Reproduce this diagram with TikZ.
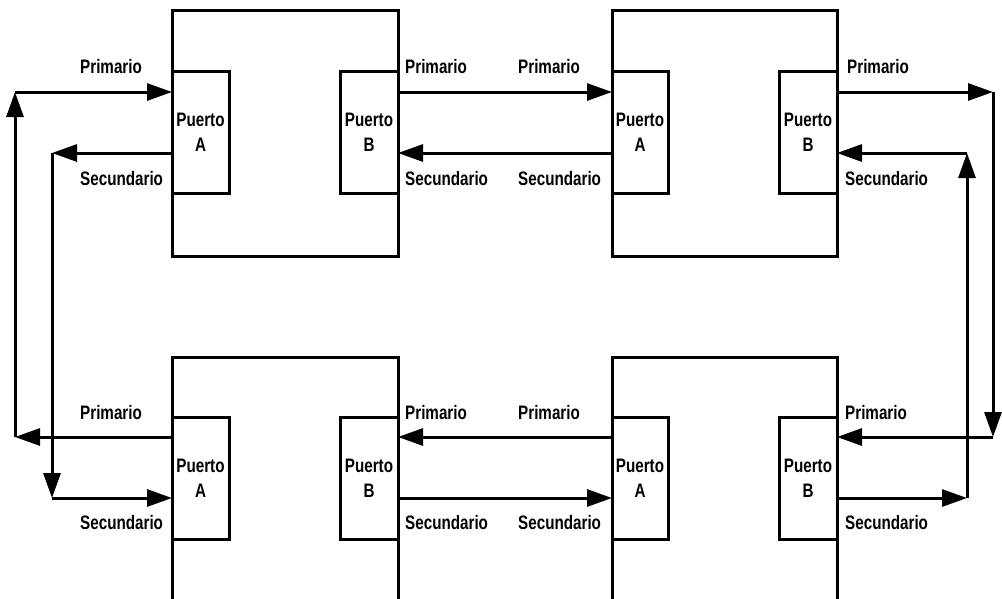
\documentclass[tikz,border=0pt]{standalone}
\usepackage{fontspec}
\setmainfont{Liberation Sans}[FakeStretch=0.78]
\usetikzlibrary{arrows.meta}
\tikzset{
  bigbox/.style={draw, line width=3pt, inner sep=0pt, outer sep=0pt, rectangle},
  portbox/.style={draw, line width=3pt, inner sep=0pt, outer sep=0pt, rectangle, fill=white,
     align=center, font=\fontsize{19.5}{25}\selectfont\bfseries},
  lbl/.style={anchor=base west, inner sep=0pt, font=\fontsize{19.5}{23}\selectfont\bfseries},
  conn/.style={line width=3pt, -{Triangle[length=25pt,width=17pt]}},
}
\begin{document}
\begin{tikzpicture}[x=1pt,y=-1pt]
\useasboundingbox (0,0) rectangle (1002,598);
\clip (0,0) rectangle (1002,598);
% levels
\coordinate (yTP) at (0,92);
\coordinate (yTS) at (0,153);
\coordinate (yBP) at (0,437);
\coordinate (yBS) at (0,498);
\coordinate (xL1) at (15,0);
\coordinate (xL2) at (52,0);
\coordinate (xR1) at (993,0);
\coordinate (xR2) at (967,0);
% big boxes
\node[bigbox, minimum width=226pt, minimum height=246pt] (b1) at (285,133) {};
\node[bigbox, minimum width=225pt, minimum height=246pt] (b2) at (724.5,133) {};
\node[bigbox, minimum width=226pt, minimum height=246pt] (b3) at (285,480) {};
\node[bigbox, minimum width=225pt, minimum height=246pt] (b4) at (724.5,480) {};
% ports
\node[portbox, minimum width=57pt, minimum height=122pt] (pA1) at (200.5,132) {Puerto\\A};
\node[portbox, minimum width=58pt, minimum height=122pt] (pB1) at (369,132) {Puerto\\B};
\node[portbox, minimum width=56pt, minimum height=122pt] (pA2) at (640,132) {Puerto\\A};
\node[portbox, minimum width=58pt, minimum height=122pt] (pB2) at (808,132) {Puerto\\B};
\node[portbox, minimum width=57pt, minimum height=122pt] (pA3) at (200.5,478) {Puerto\\A};
\node[portbox, minimum width=58pt, minimum height=122pt] (pB3) at (369,478) {Puerto\\B};
\node[portbox, minimum width=56pt, minimum height=122pt] (pA4) at (640,478) {Puerto\\A};
\node[portbox, minimum width=58pt, minimum height=122pt] (pB4) at (808,478) {Puerto\\B};
% labels top
\node[lbl] (l1) at (80,73) {Primario};
\node[lbl] (l2) at (80,185) {Secundario};
\node[lbl] (l3) at (405,73) {Primario};
\node[lbl] (l4) at (518,73) {Primario};
\node[lbl] (l5) at (405,185) {Secundario};
\node[lbl] (l6) at (518,185) {Secundario};
\node[lbl] (l7) at (847,73) {Primario};
\node[lbl] (l8) at (845,185) {Secundario};
% labels bottom
\node[lbl] (l9) at (80,419) {Primario};
\node[lbl] (l10) at (80,529) {Secundario};
\node[lbl] (l11) at (405,419) {Primario};
\node[lbl] (l12) at (518,419) {Primario};
\node[lbl] (l13) at (405,529) {Secundario};
\node[lbl] (l14) at (518,529) {Secundario};
\node[lbl] (l15) at (845,419) {Primario};
\node[lbl] (l16) at (845,529) {Secundario};
% middle connectors
\draw[conn] (pB1.east |- yTP) -- (pA2.west |- yTP);
\draw[conn] (pA2.west |- yTS) -- (pB1.east |- yTS);
\draw[conn] (pA4.west |- yBP) -- (pB3.east |- yBP);
\draw[conn] (pB3.east |- yBS) -- (pA4.west |- yBS);
% left outer loop
\draw[conn] (pA3.west |- yBP) -- (xL1 |- yBP);
\draw[conn] (xL1 |- yBP) -- (xL1 |- yTP);
\draw[conn] (xL1 |- yTP) -- (pA1.west |- yTP);
% left inner loop
\draw[conn] (pA1.west |- yTS) -- (xL2 |- yTS);
\draw[conn] (xL2 |- yTS) -- (xL2 |- yBS);
\draw[conn] (xL2 |- yBS) -- (pA3.west |- yBS);
% right outer loop
\draw[conn] (pB2.east |- yTP) -- (xR1 |- yTP);
\draw[conn] (xR1 |- yTP) -- (xR1 |- yBP);
\draw[conn] (xR1 |- yBP) -- (pB4.east |- yBP);
% right inner loop
\draw[conn] (pB4.east |- yBS) -- (xR2 |- yBS);
\draw[conn] (xR2 |- yBS) -- (xR2 |- yTS);
\draw[conn] (xR2 |- yTS) -- (pB2.east |- yTS);
\end{tikzpicture}
\end{document}
